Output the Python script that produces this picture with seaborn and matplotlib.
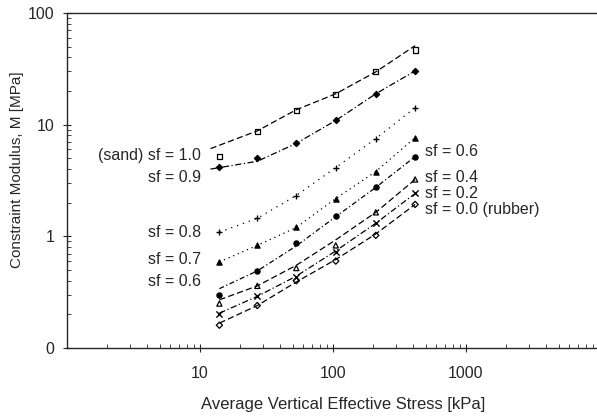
import numpy as np
import pandas as pd
import matplotlib
matplotlib.use("Agg")
import matplotlib.pyplot as plt
import seaborn as sns
from matplotlib.ticker import FixedLocator, FixedFormatter, NullFormatter

# measured stress levels [kPa]
stress = [14, 27, 53, 105, 210, 415]

# measured constraint modulus [MPa] per sand fraction
m_sf10 = [5.2, 8.7, 13.3, 18.5, 29.7, 46.7]
m_sf09 = [4.2, 5.0, 6.8, 10.9, 18.9, 30.3]
m_sf08 = [1.09, 1.45, 2.32, 4.13, 7.5, 14.2]
m_sf07 = [0.59, 0.83, 1.2, 2.18, 3.8, 7.65]
m_sf06 = [0.30, 0.49, 0.87, 1.51, 2.74, 5.18]
m_sf04 = [0.25, 0.36, 0.52, 0.83, 1.64, 3.23]
m_sf02 = [0.20, 0.29, 0.43, 0.72, 1.31, 2.42]
m_sf00 = [0.16, 0.24, 0.40, 0.60, 1.02, 1.93]

# fitted trend lines
fit_x_sand = [12, 27, 53, 105, 210, 415]
fit_sf10 = [6.1, 8.8, 13.6, 18.9, 29.7, 51.0]
fit_x_09 = [12, 27, 53, 105, 210, 415]
fit_sf09 = [4.0, 4.7, 6.8, 10.9, 18.9, 30.3]
fit_x = [14, 27, 53, 105, 210, 415]
fit_sf08 = [1.09, 1.45, 2.32, 4.13, 7.5, 14.2]
fit_sf07 = [0.59, 0.83, 1.2, 2.18, 3.8, 7.65]
fit_sf06 = [0.34, 0.49, 0.82, 1.5, 2.74, 5.18]
fit_sf04 = [0.27, 0.36, 0.55, 0.93, 1.64, 3.23]
fit_sf02 = [0.205, 0.29, 0.44, 0.74, 1.31, 2.42]
fit_sf00 = [0.167, 0.24, 0.39, 0.62, 1.05, 1.93]

y_tick_vals = [0.1, 1, 10, 100]
y_tick_labels = ["0", "1", "10", "100"]
x_tick_vals = [10, 100, 1000]
x_tick_labels = ["10", "100", "1000"]

sns.set_style("ticks")
plt.rcParams['font.family'] = ['Liberation Sans', 'DejaVu Sans']

fig = plt.figure(figsize=(5.97, 4.18), dpi=100)
ax = fig.add_axes([0.1122, 0.1675, 0.891, 0.8014])

series = [
    (fit_x_sand, fit_sf10, m_sf10, 's', 'none', (0, (5, 2.5))),
    (fit_x_09, fit_sf09, m_sf09, 'D', 'black', (0, (5, 2, 1, 2))),
    (fit_x, fit_sf08, m_sf08, '+', 'black', (0, (1, 4))),
    (fit_x, fit_sf07, m_sf07, '^', 'black', (0, (1, 3))),
    (fit_x, fit_sf06, m_sf06, 'o', 'black', (0, (4, 2, 1, 2))),
    (fit_x, fit_sf04, m_sf04, '^', 'none', (0, (5, 2.5))),
    (fit_x, fit_sf02, m_sf02, 'x', 'black', (0, (5, 2, 1, 2))),
    (fit_x, fit_sf00, m_sf00, 'D', 'none', (0, (5, 2.5))),
]

for fx, fy, my, marker, face, dash in series:
    fit_df = pd.DataFrame({'x': fx, 'y': fy})
    sns.lineplot(data=fit_df, x='x', y='y', ax=ax, color='black',
                 linewidth=0.9, linestyle=dash, sort=False)
    pts = pd.DataFrame({'x': stress, 'y': my})
    if marker in ('+', 'x'):
        sns.scatterplot(data=pts, x='x', y='y', ax=ax, marker=marker, color='black',
                        s=20, linewidth=1.0)
    else:
        size = 10 if marker == 'D' else 14
        sns.scatterplot(data=pts, x='x', y='y', ax=ax, marker=marker,
                        facecolor=face, edgecolor='black', s=size, linewidth=0.9)

ax.set_xscale('log')
ax.set_yscale('log')
ax.set_xlim(1, 10000)
ax.set_ylim(0.1, 100)

ax.yaxis.set_major_locator(FixedLocator(y_tick_vals))
ax.yaxis.set_major_formatter(FixedFormatter(y_tick_labels))
ax.xaxis.set_major_locator(FixedLocator(x_tick_vals))
ax.xaxis.set_major_formatter(FixedFormatter(x_tick_labels))
ax.xaxis.set_minor_formatter(NullFormatter())
ax.yaxis.set_minor_formatter(NullFormatter())
ax.tick_params(which='major', direction='inout', length=6, width=0.8, labelsize=11.5)
ax.tick_params(axis='y', which='major', pad=6)
ax.tick_params(axis='x', which='major', pad=10)
ax.tick_params(which='minor', direction='in', length=3, width=0.6)

for side in ['top', 'left', 'bottom']:
    ax.spines[side].set_visible(True)
    ax.spines[side].set_linewidth(1.0)
ax.spines['right'].set_visible(False)

ax.set_xlabel('Average Vertical Effective Stress [kPa]', fontsize=12)
ax.set_ylabel('Constraint Modulus, M [MPa]', fontsize=11)
ax.xaxis.set_label_coords((343 - 67) / 532, -(397 - 348) / 335)
ax.yaxis.set_label_coords(-(67 - 24) / 532, (348 - 170) / 335)

# curve labels (axes coordinates)
left_labels = [("(sand) sf = 1.0", 156), ("sf = 0.9", 178), ("sf = 0.8", 233),
               ("sf = 0.7", 260), ("sf = 0.6", 282)]
right_labels = [("sf = 0.6", 152), ("sf = 0.4", 178), ("sf = 0.2", 194),
                ("sf = 0.0 (rubber)", 210)]
for txt, py in left_labels:
    ax.text((201 - 67) / 532, (348 - py) / 335, txt, transform=ax.transAxes,
            ha='right', va='center', fontsize=11.5)
for txt, py in right_labels:
    ax.text((425 - 67) / 532, (348 - py) / 335, txt, transform=ax.transAxes,
            ha='left', va='center', fontsize=11.5)

fig.savefig('out.png', dpi=100)
